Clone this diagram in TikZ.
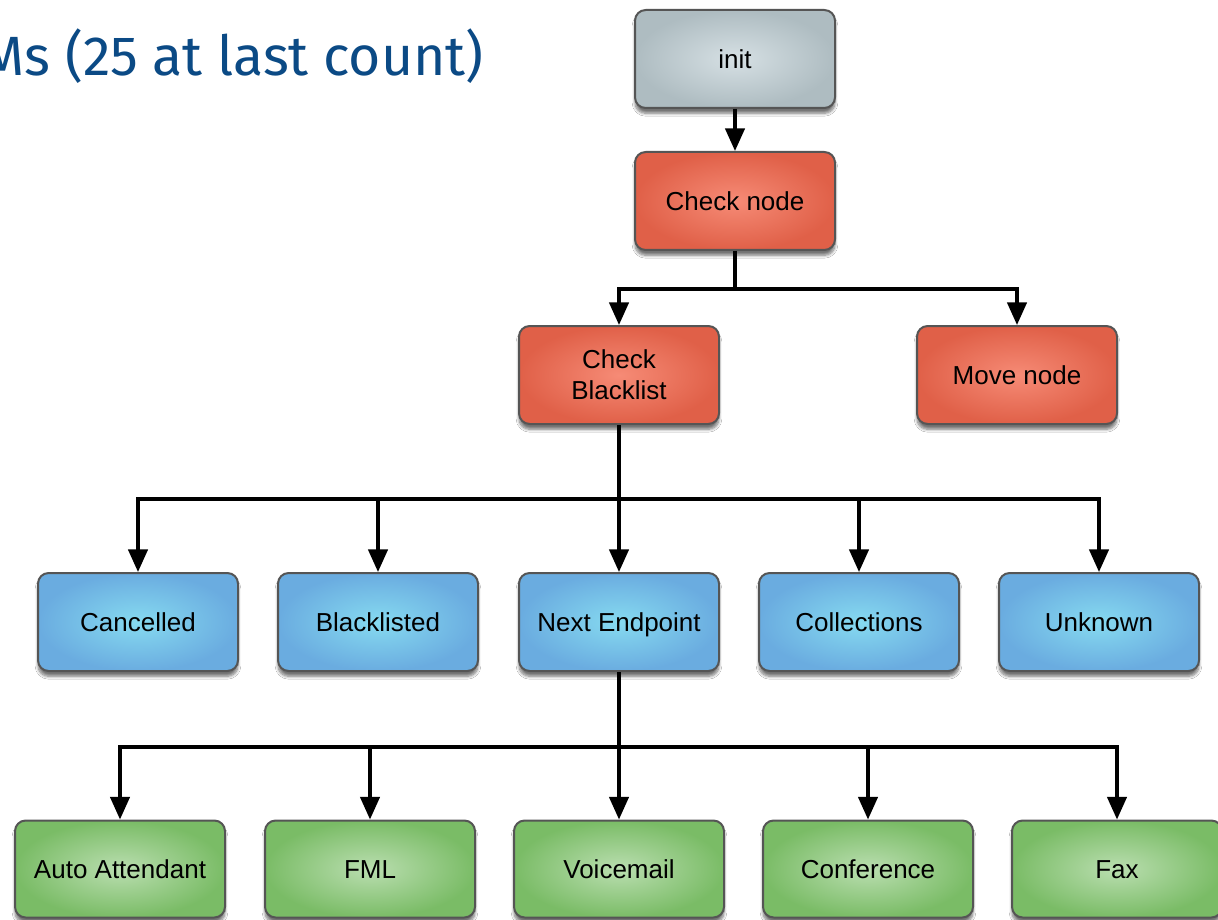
\documentclass[tikz,border=0pt]{standalone}
\usepackage{fontspec}
\setmainfont{Liberation Sans}
\newfontfamily\titlefont{Fira Sans}
\usetikzlibrary{arrows.meta,shadows.blur}
\definecolor{titleblue}{HTML}{0B4A85}
\definecolor{edgegray}{HTML}{555555}
\tikzset{
  box/.style={draw=edgegray, line width=1.5pt, rounded corners=8pt,
    minimum width=150pt, minimum height=73.5pt, align=center,
    font=\fontsize{19.5}{23}\selectfont, text=black,
    blur shadow={shadow xshift=0pt, shadow yshift=-4pt, shadow blur steps=7, shadow opacity=55}},
  oneline/.style={text height=13.9pt, text depth=0pt},
  greybox/.style={box, oneline, inner color={rgb,255:red,214;green,224;blue,228}, outer color={rgb,255:red,174;green,188;blue,193}},
  redbase/.style={box, inner color={rgb,255:red,246;green,139;blue,118}, outer color={rgb,255:red,224;green,96;blue,72}},
  redbox/.style={redbase, oneline},
  bluebox/.style={box, oneline, inner color={rgb,255:red,134;green,218;blue,240}, outer color={rgb,255:red,106;green,172;blue,224}},
  greenbox/.style={box, oneline, minimum width=157.5pt, minimum height=72.75pt,
    inner color={rgb,255:red,186;green,222;blue,176}, outer color={rgb,255:red,122;green,188;blue,102}},
  link/.style={line width=2.6pt, black},
  arr/.style={link, -{Triangle[width=14.5pt,length=17pt]}}
}
\begin{document}
\begin{tikzpicture}[x=0.75pt,y=-0.75pt]
\useasboundingbox (0,0) rectangle (1218,920);
\clip (0,0) rectangle (1218,920);
\fill[white] (0,0) rectangle (1218,920);

% heading
\node[anchor=base east, inner sep=0pt, text=titleblue,
      font=\titlefont\fontsize{41.5}{46}\selectfont] (title) at (484,76) {Ms (25 at last count)};

% top of the tree
\node[greybox] (init) at (735,59) {init};
\node[redbox] (cn) at (735,201) {Check node};
\node[redbase] (cb) at (619,375) {Check\\Blacklist};
\node[redbox] (mv) at (1017,375) {Move node};

% outcome row
\node[bluebox] (canc) at (138,622) {Cancelled};
\node[bluebox] (bl) at (378,622) {Blacklisted};
\node[bluebox] (ne) at (619,622) {Next Endpoint};
\node[bluebox] (coll) at (859,622) {Collections};
\node[bluebox] (unk) at (1099,622) {Unknown};

% endpoint row
\node[greenbox] (aa) at (120,869) {Auto Attendant};
\node[greenbox] (fml) at (370,869) {FML};
\node[greenbox] (vm) at (619,869) {Voicemail};
\node[greenbox] (conf) at (868,869) {Conference};
\node[greenbox] (fax) at (1117,869) {Fax};

% junction points
\coordinate (j1) at (735,289);
\coordinate (j2) at (619,499);
\coordinate (j3) at (619,747);

\draw[arr] (init) -- (cn);

\draw[link] (cn) -- (j1);
\draw[arr] (j1) -| (cb);
\draw[arr] (j1) -| (mv);

\draw[link] (cb) -- (j2);
\foreach \n in {canc,bl,ne,coll,unk}
  \draw[arr] (j2) -| (\n);

\draw[link] (ne) -- (j3);
\foreach \n in {aa,fml,vm,conf,fax}
  \draw[arr] (j3) -| (\n);
\end{tikzpicture}
\end{document}
